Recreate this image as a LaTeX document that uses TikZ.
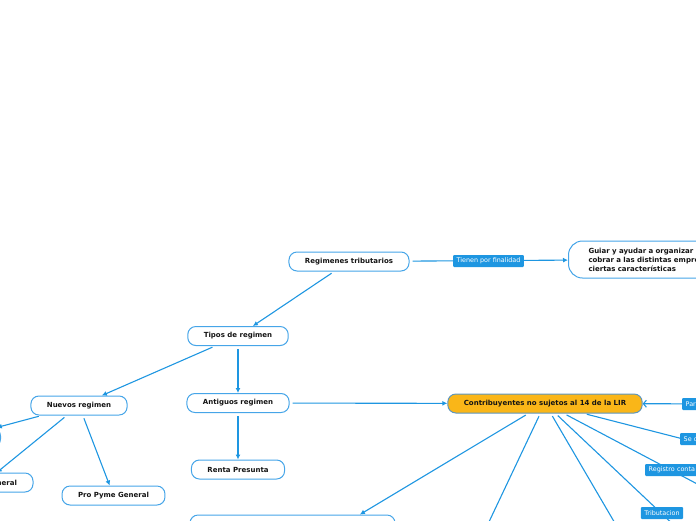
\documentclass[tikz,border=0pt]{standalone}
\usepackage{fontspec}
\setmainfont{DejaVu Sans}
\usepackage{xcolor}
\usetikzlibrary{arrows.meta}
\definecolor{mapblue}{RGB}{30,150,225}
\definecolor{edgeblue}{RGB}{70,165,232}
\definecolor{mainorange}{RGB}{250,182,24}
\definecolor{inkblack}{RGB}{20,20,20}

\begin{document}
\begin{tikzpicture}[
    x=1pt, y=-1pt,
    topic/.style={rectangle, rounded corners=8pt, draw=edgeblue, line width=1pt, fill=white, text=inkblack, minimum height=19pt, inner xsep=16pt, inner ysep=0pt, font=\fontsize{7}{9}\selectfont\bfseries},
    maintopic/.style={topic, draw=edgeblue!60!gray, fill=mainorange},
    tag/.style={rectangle, rounded corners=1pt, fill=mapblue, text=white, minimum height=12pt, inner xsep=3.5pt, inner ysep=0pt, font=\fontsize{6.4}{8}\selectfont},
    arrow/.style={-{Latex[length=5pt, width=5pt]}, draw=mapblue, line width=1.1pt, shorten <=3pt},
    plain/.style={draw=mapblue, line width=1.1pt, shorten <=3pt},
    barb/.style={-{Straight Barb[length=3pt, width=7pt]}, draw=mapblue, line width=1.1pt}
]
    \useasboundingbox (0,0) rectangle (696,520);
    \clip (0,0) rectangle (696,520);

    % topics
    \node[topic] (reg) at (349,261.5) {Regimenes tributarios};
    \node[topic, anchor=west, rounded corners=14pt, minimum height=37pt, inner xsep=20pt, text width=150pt, align=left] (guiar) at (568,259.5) {Guiar y ayudar a organizar\\ cobrar a las distintas empre\\ ciertas características};
    \node[topic] (tipos) at (238,336) {Tipos de regimen};
    \node[topic] (nuevos) at (79,405.5) {Nuevos regimen};
    \node[topic] (antiguos) at (238,403) {Antiguos regimen};
    \node[topic] (renta) at (238,469.5) {Renta Presunta};
    \node[topic] (propyme) at (113.5,495.5) {Pro Pyme General};
    \node[topic, anchor=east, minimum width=82pt] (leftnode) at (1,437.5) {};
    \node[topic, text width=65pt, align=right] (general) at (-15.5,482.5) {General};
    \node[maintopic] (contrib) at (545,403.5) {Contribuyentes no sujetos al 14 de la LIR};
    \node[topic, minimum width=205pt, minimum height=80pt] (bignode) at (292.5,555) {};

    % nodes outside the frame
    \coordinate (offA) at (470,562);
    \coordinate (offB) at (640,566);
    \coordinate (offTrib) at (732,580);
    \coordinate (offReg) at (790,533);
    \coordinate (offSe) at (800,469);
    \coordinate (offPar) at (760,404);

    % connectors
    \draw[arrow] (reg) -- (guiar);
    \draw[arrow] (reg) -- (tipos);
    \draw[arrow] (tipos) -- (nuevos);
    \draw[arrow] (tipos) -- (antiguos);
    \draw[arrow] (antiguos) -- (contrib);
    \draw[arrow] (antiguos) -- (renta);
    \draw[arrow] (nuevos) -- (leftnode);
    \draw[arrow] (nuevos) -- (general);
    \draw[arrow] (nuevos) -- (propyme);
    \draw[arrow] (contrib) -- (bignode);
    \draw[arrow] (contrib) -- (offA);
    \draw[arrow] (contrib) -- (offB);
    \draw[arrow] (contrib) -- (offTrib);
    \draw[arrow] (contrib) -- (offReg);
    \draw[arrow] (contrib) -- (offSe);
    \draw[barb] (offPar) -- (contrib);

    % labels on connectors
    \node[tag] (tienen) at (488.5,261) {Tienen por finalidad};
    \node[tag, anchor=west, text width=60pt, align=left] (par) at (682,404) {Par};
    \node[tag, anchor=west, text width=60pt, align=left] (sed) at (680,439) {Se d};
    \node[tag, anchor=west, text width=70pt, align=left] (registro) at (645,470) {Registro conta};
    \node[tag] (trib) at (662,513) {Tributacion};
\end{tikzpicture}
\end{document}
